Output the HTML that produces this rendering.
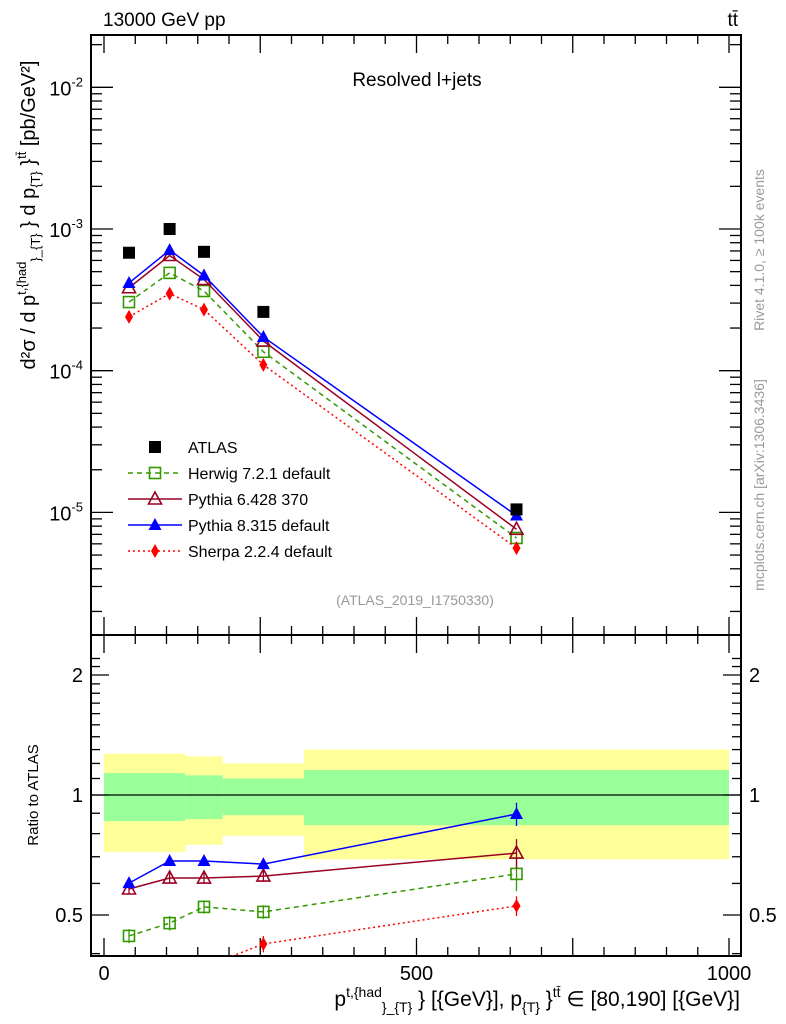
<!DOCTYPE html>
<html><head><meta charset="utf-8"><style>
body{margin:0;background:#fff;}
svg{display:block;font-family:"Liberation Sans",sans-serif;}
</style></head><body>
<svg id="c" width="786" height="1024" viewBox="0 0 786 1024">
<text x="103" y="26" font-size="19">13000 GeV pp</text>
<text x="738" y="26" font-size="19" text-anchor="end">tt̄</text>
<text x="417" y="86" font-size="19" text-anchor="middle">Resolved l+jets</text>
<text x="415" y="605" font-size="14" fill="#999" text-anchor="middle">(ATLAS_2019_I1750330)</text>
<text transform="translate(764,250) rotate(-90)" font-size="14" fill="#999" text-anchor="middle">Rivet 4.1.0, ≥ 100k events</text>
<text transform="translate(764,485) rotate(-90)" font-size="14" fill="#999" text-anchor="middle">mcplots.cern.ch [arXiv:1306.3436]</text>
<text transform="translate(35,215) rotate(-90)" font-size="20" text-anchor="middle">d²σ / d p<tspan dy="-9" font-size="13">t,{had</tspan><tspan dy="14" font-size="13">}_{T}</tspan><tspan dy="-5"> } d p</tspan><tspan dy="5" font-size="13">{T}</tspan><tspan dy="-5"> }</tspan><tspan dy="-9" font-size="13">tt̄</tspan><tspan dy="9"> [pb/GeV²]</tspan></text>
<text transform="translate(38,795) rotate(-90)" font-size="15" text-anchor="middle">Ratio to ATLAS</text>
<text x="740" y="1006" font-size="21" text-anchor="end">p<tspan dy="-9" font-size="14">t,{had</tspan><tspan dy="15" font-size="14">}_{T}</tspan><tspan dy="-6"> } [{GeV}], p</tspan><tspan dy="6" font-size="14">{T}</tspan><tspan dy="-6"> }</tspan><tspan dy="-9" font-size="14">tt̄</tspan><tspan dy="9"> ∈ [80,190] [{GeV}]</tspan></text>
<g id="g"></g>
</svg>
<script>
const xVals=[40,105,160,255,660];
const atlas=[6.8e-4,1.0e-3,6.9e-4,2.6e-4,1.05e-5];
const herwig=[3.05e-4,4.9e-4,3.65e-4,1.36e-4,6.6e-6];
const py6=[3.85e-4,6.5e-4,4.4e-4,1.62e-4,7.6e-6];
const py8=[4.16e-4,7.1e-4,4.7e-4,1.73e-4,9.5e-6];
const sherpa=[2.4e-4,3.5e-4,2.7e-4,1.1e-4,5.6e-6];
const rHerwig=[0.443,0.477,0.524,0.509,0.634];
const rPy6=[0.581,0.619,0.619,0.626,0.715];
const rPy8=[0.601,0.683,0.683,0.671,0.896];
const rSherpa=[0.33,0.33,0.37,0.423,0.527];
const rErr=[0.018,0.02,0.02,0.02,0.06];
const binEdges=[0,130,190,320,1000];
const yelLo=[0.72,0.75,0.79,0.69], yelHi=[1.27,1.25,1.2,1.3];
const grnLo=[0.86,0.87,0.89,0.84], grnHi=[1.135,1.12,1.1,1.155];
const xTicks=[0,500,1000];
const yDecades=[-5,-4,-3,-2];
const rTicks=[0.5,1,2];

const L=91,R=741,T=35,M=635,B=956;
const X=v=>104+(v)*(729-104)/1000;
const Y=v=>229-(Math.log10(v)+3)*141.7;
const RY=v=>795-Math.log2(v)*120;
const NS="http://www.w3.org/2000/svg";
const g=document.getElementById('g');
function el(t,a,p){const e=document.createElementNS(NS,t);for(const k in a)e.setAttribute(k,a[k]);(p||g).appendChild(e);return e;}

const defs=el('defs',{});
const cp1=el('clipPath',{id:'cm'},defs);el('rect',{x:L,y:T,width:R-L,height:M-T},cp1);
const cp2=el('clipPath',{id:'cr'},defs);el('rect',{x:L,y:M,width:R-L,height:B-M},cp2);

for(let i=0;i<4;i++){
 const b=el('rect',{x:X(binEdges[i]),y:RY(yelHi[i]),width:X(binEdges[i+1])-X(binEdges[i]),height:RY(yelLo[i])-RY(yelHi[i]),fill:'#ffff99'});
 
 
 const c=el('rect',{x:X(binEdges[i]),y:RY(grnHi[i]),width:X(binEdges[i+1])-X(binEdges[i]),height:RY(grnLo[i])-RY(grnHi[i]),fill:'#99ff99'});
 
 
}
el('line',{x1:L,x2:R,y1:RY(1),y2:RY(1),stroke:'#000','stroke-width':1.3});

el('rect',{x:L,y:T,width:R-L,height:M-T,fill:'none',stroke:'#000','stroke-width':2});
el('rect',{x:L,y:M,width:R-L,height:B-M,fill:'none',stroke:'#000','stroke-width':2});

for(let v=0;v<=1000;v+=50){const big=v%250===0;const h=big?18:9;
 el('line',{x1:X(v),x2:X(v),y1:T,y2:T+h,stroke:'#000','stroke-width':1.3});
 el('line',{x1:X(v),x2:X(v),y1:M,y2:M+h,stroke:'#000','stroke-width':1.3});
 el('line',{x1:X(v),x2:X(v),y1:M,y2:M-h,stroke:'#000','stroke-width':1.3});
 el('line',{x1:X(v),x2:X(v),y1:B,y2:B-h,stroke:'#000','stroke-width':1.3});}
xTicks.forEach(v=>{const t=el('text',{x:X(v),y:980,'font-size':20,'text-anchor':'middle'});t.textContent=v;
 
 });
for(let d=-6;d<=-2;d++){for(let k=1;k<10;k++){const y=Y(k*Math.pow(10,d));if(y<T||y>M)continue;const h=k===1?22:11;
 el('line',{x1:L,x2:L+h,y1:y,y2:y,stroke:'#000','stroke-width':1.3});el('line',{x1:R,x2:R-h,y1:y,y2:y,stroke:'#000','stroke-width':1.3});}}
yDecades.forEach(d=>{const t=el('text',{x:83,y:Y(Math.pow(10,d))+8,'font-size':20,'text-anchor':'end'});
 t.innerHTML='10<tspan dy="-9" font-size="13">'+d+'</tspan>';
 
 });
for(let v=0.4;v<=2.3;v+=0.1){const y=RY(v);if(y<M||y>B)continue;const big=[0.5,1,2].some(a=>Math.abs(a-v)<1e-6);const h=big?18:9;
 el('line',{x1:L,x2:L+h,y1:y,y2:y,stroke:'#000','stroke-width':1.3});el('line',{x1:R,x2:R-h,y1:y,y2:y,stroke:'#000','stroke-width':1.3});}
rTicks.forEach(v=>{[83,749].forEach((x,i)=>{const t=el('text',{x:x,y:RY(v)+7,'font-size':20,'text-anchor':i?'start':'end'});t.textContent=v;
 
 });});

function marker(type,x,y,col,parent){
 if(type==='sq')el('rect',{x:x-6,y:y-6,width:12,height:12,fill:'#000'},parent);
 else if(type==='osq')el('rect',{x:x-5.5,y:y-5.5,width:11,height:11,fill:'none',stroke:col,'stroke-width':1.6},parent);
 else if(type==='otri')el('path',{d:`M${x},${y-7}L${x+6.5},${y+5}L${x-6.5},${y+5}Z`,fill:'none',stroke:col,'stroke-width':1.6},parent);
 else if(type==='tri')el('path',{d:`M${x},${y-7}L${x+6.5},${y+5}L${x-6.5},${y+5}Z`,fill:col},parent);
 else el('path',{d:`M${x},${y-7}L${x+4},${y}L${x},${y+7}L${x-4},${y}Z`,fill:col},parent);
}
const series=[
 {n:'herwig',v:herwig,r:rHerwig,c:'#339900',m:'osq',d:'5,4',label:'Herwig 7.2.1 default'},
 {n:'pythia6',v:py6,r:rPy6,c:'#990022',m:'otri',d:'',label:'Pythia 6.428 370'},
 {n:'pythia8',v:py8,r:rPy8,c:'#0000ff',m:'tri',d:'',label:'Pythia 8.315 default'},
 {n:'sherpa',v:sherpa,r:rSherpa,c:'#ff0000',m:'dia',d:'2,3',label:'Sherpa 2.2.4 default'}];
const gm=el('g',{'clip-path':'url(#cm)'});const gr=el('g',{'clip-path':'url(#cr)'});
series.forEach(s=>{
 const l=el('polyline',{points:xVals.map((x,i)=>X(x)+','+Y(s.v[i])).join(' '),fill:'none',stroke:s.c,'stroke-width':1.5,'stroke-dasharray':s.d},gm);
 
 
 xVals.forEach((x,i)=>marker(s.m,X(x),Y(s.v[i]),s.c,gm));
 const lr=el('polyline',{points:xVals.map((x,i)=>X(x)+','+RY(s.r[i])).join(' '),fill:'none',stroke:s.c,'stroke-width':1.5,'stroke-dasharray':s.d},gr);
 
 
 xVals.forEach((x,i)=>{const e=rErr[i]*(s.n==='sherpa'&&i===4?0.5:1);
  el('line',{x1:X(x),x2:X(x),y1:RY(s.r[i]+e),y2:RY(s.r[i]-e),stroke:s.c,'stroke-width':1.3},gr);
  marker(s.m,X(x),RY(s.r[i]),s.c,gr);});
});
xVals.forEach((x,i)=>{marker('sq',X(x),Y(atlas[i]),'#000',gm);});

const lg=el('g',{});


const ly=[447,473,499,525,551];
marker('sq',155,ly[0],'#000',lg);
let t=el('text',{x:188,y:ly[0]+6,'font-size':16},lg);t.textContent='ATLAS';
series.forEach((s,i)=>{const y=ly[i+1];
 el('line',{x1:128,x2:182,y1:y,y2:y,stroke:s.c,'stroke-width':1.5,'stroke-dasharray':s.d},lg);
 marker(s.m,155,y,s.c,lg);
 const tt=el('text',{x:188,y:y+6,'font-size':16},lg);tt.textContent=s.label;
 
 });
</script>
</body></html>
